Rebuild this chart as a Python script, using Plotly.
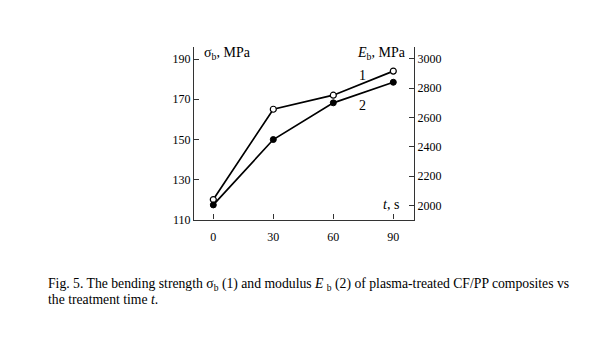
import plotly.graph_objects as go

t = [0, 30, 60, 90]
sigma_b = [120, 165, 172, 184]      # MPa, curve 1 (left axis)
E_b = [2005, 2450, 2700, 2840]      # MPa, curve 2 (right axis)
x_ticks = [0, 30, 60, 90]
left_ticks = [110, 130, 150, 170, 190]
right_ticks = [2000, 2200, 2400, 2600, 2800, 3000]

W, H = 600, 337
FONT = "Liberation Serif"

def px(x):
    return x / W

def py(y):
    return (H - y) / H

fig = go.Figure()
fig.add_trace(go.Scatter(
    x=t, y=sigma_b, mode="lines+markers", yaxis="y",
    line=dict(color="black", width=1.7),
    marker=dict(symbol="circle", size=6, color="white", line=dict(color="black", width=1.2)),
    showlegend=False))
fig.add_trace(go.Scatter(
    x=t, y=E_b, mode="lines+markers", yaxis="y2",
    line=dict(color="black", width=1.7),
    marker=dict(symbol="circle", size=6, color="black", line=dict(color="black", width=1)),
    showlegend=False))

axis_common = dict(showline=True, linecolor="#333", linewidth=1.3, ticks="inside",
                   ticklen=5, tickwidth=1.2, tickcolor="#333", showgrid=False, zeroline=False,
                   tickfont=dict(family=FONT, size=12, color="black"))

fig.update_layout(
    width=W, height=H,
    margin=dict(l=0, r=0, t=0, b=0),
    paper_bgcolor="white", plot_bgcolor="white",
    xaxis=dict(domain=[px(194), px(414)], range=[-9.65, 100.35], tickvals=x_ticks,
               ticklabelstandoff=6, **axis_common),
    yaxis=dict(domain=[py(224.3), py(48)], range=[110, 196], tickvals=left_ticks,
               anchor="x", **axis_common),
    yaxis2=dict(domain=[py(224.3), py(48)], range=[1904.7, 3080], tickvals=right_ticks,
                overlaying="y", side="right", anchor="x", **axis_common),
)

ann_font = dict(family=FONT, size=14, color="black")
cap_font = dict(family=FONT, size=13.7, color="black")
annotations = [
    dict(x=px(202), y=py(55), xref="paper", yref="paper", xanchor="left", yanchor="middle",
         text="σ<sub>b</sub>, MPa", showarrow=False, font=ann_font),
    dict(x=px(408), y=py(55), xref="paper", yref="paper", xanchor="right", yanchor="middle",
         text="<i>E</i><sub>b</sub>, MPa", showarrow=False, font=ann_font),
    dict(x=px(401), y=py(209), xref="paper", yref="paper", xanchor="right", yanchor="middle",
         text="<i>t</i>, s", showarrow=False, font=ann_font),
    dict(x=px(362), y=py(77), xref="paper", yref="paper", xanchor="center", yanchor="middle",
         text="1", showarrow=False, font=ann_font),
    dict(x=px(362), y=py(108), xref="paper", yref="paper", xanchor="center", yanchor="middle",
         text="2", showarrow=False, font=ann_font),
    dict(x=px(46), y=py(291), xref="paper", yref="paper", xanchor="left", yanchor="middle",
         text="Fig. 5. The bending strength σ<sub>b</sub> (1) and modulus <i>E</i> <sub>b</sub> (2) of plasma-treated CF/PP composites vs",
         showarrow=False, font=cap_font),
    dict(x=px(46), y=py(306), xref="paper", yref="paper", xanchor="left", yanchor="middle",
         text="the treatment time <i>t</i>.",
         showarrow=False, font=cap_font),
]
fig.update_layout(annotations=annotations)

fig.write_html("out.html")
